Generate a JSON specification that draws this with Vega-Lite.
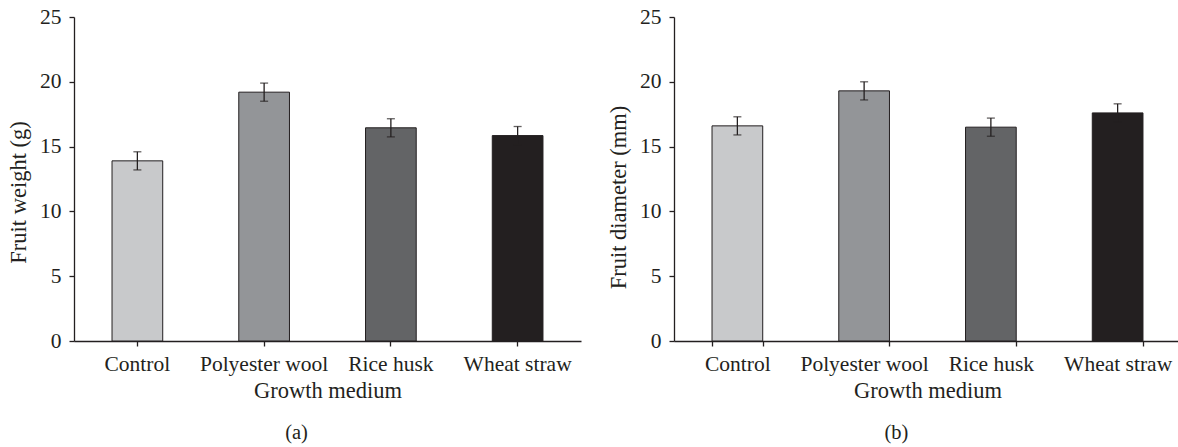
{
  "$schema": "https://vega.github.io/schema/vega-lite/v6.json",
  "background": "white",
  "padding": {"left": 7, "top": 6, "right": 0, "bottom": 0},
  "bounds": "flush",
  "spacing": 93,
  "datasets": {
    "weight": [
      {"medium": "Control", "value": 13.9, "lo": 13.2, "hi": 14.6},
      {"medium": "Polyester wool", "value": 19.2, "lo": 18.5, "hi": 19.9},
      {"medium": "Rice husk", "value": 16.45, "lo": 15.75, "hi": 17.15},
      {"medium": "Wheat straw", "value": 15.85, "lo": 15.15, "hi": 16.55}
    ],
    "diameter": [
      {"medium": "Control", "value": 16.6, "lo": 15.9, "hi": 17.3},
      {"medium": "Polyester wool", "value": 19.3, "lo": 18.6, "hi": 20.0},
      {"medium": "Rice husk", "value": 16.5, "lo": 15.8, "hi": 17.2},
      {"medium": "Wheat straw", "value": 17.6, "lo": 16.9, "hi": 18.3}
    ]
  },
  "config": {
    "font": "Liberation Serif",
    "view": {"stroke": null},
    "axis": {
      "labelFont": "Liberation Serif",
      "titleFont": "Liberation Serif",
      "labelFontSize": 21.5,
      "titleFontSize": 22.5,
      "titleFontWeight": "normal",
      "labelColor": "#231f20",
      "titleColor": "#231f20",
      "domainColor": "#231f20",
      "tickColor": "#231f20",
      "domainWidth": 1.3,
      "tickWidth": 1.3,
      "tickSize": 5,
      "grid": false
    },
    "title": {"font": "Liberation Serif", "fontSize": 20.5, "fontWeight": "normal", "color": "#231f20"}
  },
  "hconcat": [
    {
      "width": 507,
      "height": 324,
      "data": {"name": "weight"},
      "title": {"text": "(a)", "orient": "bottom", "anchor": "middle", "dx": -31, "offset": 21},
      "encoding": {
        "x": {
          "field": "medium", "type": "nominal",
          "sort": ["Control", "Polyester wool", "Rice husk", "Wheat straw"],
          "scale": {"paddingInner": 0.6, "paddingOuter": 0.3},
          "axis": {"title": "Growth medium", "labelAngle": 0, "labelPadding": 7, "titlePadding": 5}
        }
      },
      "layer": [
        {
          "mark": {"type": "bar", "stroke": "#231f20", "strokeWidth": 1},
          "encoding": {
            "y": {"field": "value", "type": "quantitative", "scale": {"domain": [0, 25], "nice": false},
              "axis": {"title": "Fruit weight (g)", "values": [0, 5, 10, 15, 20, 25], "labelPadding": 8, "titlePadding": 9, "titleY": 175}},
            "color": {"field": "medium", "type": "nominal",
              "sort": ["Control", "Polyester wool", "Rice husk", "Wheat straw"],
              "scale": {"range": ["#c8c9cb", "#939598", "#636466", "#231f20"]}, "legend": null}
          }
        },
        {
          "mark": {"type": "rule", "stroke": "#231f20", "strokeWidth": 1.3},
          "encoding": {"y": {"field": "lo", "type": "quantitative"}, "y2": {"field": "hi"}}
        },
        {
          "mark": {"type": "tick", "orient": "horizontal", "size": 8, "thickness": 1.3, "color": "#231f20"},
          "encoding": {"y": {"field": "lo", "type": "quantitative"}}
        },
        {
          "mark": {"type": "tick", "orient": "horizontal", "size": 8, "thickness": 1.3, "color": "#231f20"},
          "encoding": {"y": {"field": "hi", "type": "quantitative"}}
        }
      ]
    },
    {
      "width": 507,
      "height": 324,
      "data": {"name": "diameter"},
      "title": {"text": "(b)", "orient": "bottom", "anchor": "middle", "dx": -31, "offset": 21},
      "encoding": {
        "x": {
          "field": "medium", "type": "nominal",
          "sort": ["Control", "Polyester wool", "Rice husk", "Wheat straw"],
          "scale": {"paddingInner": 0.6, "paddingOuter": 0.3},
          "axis": {"title": "Growth medium", "labelAngle": 0, "labelPadding": 7, "titlePadding": 5, "tickBand": "extent"}
        }
      },
      "layer": [
        {
          "mark": {"type": "bar", "stroke": "#231f20", "strokeWidth": 1},
          "encoding": {
            "y": {"field": "value", "type": "quantitative", "scale": {"domain": [0, 25], "nice": false},
              "axis": {"title": "Fruit diameter (mm)", "values": [0, 5, 10, 15, 20, 25], "labelPadding": 8, "titlePadding": 9, "titleY": 180}},
            "color": {"field": "medium", "type": "nominal",
              "sort": ["Control", "Polyester wool", "Rice husk", "Wheat straw"],
              "scale": {"range": ["#c8c9cb", "#939598", "#636466", "#231f20"]}, "legend": null}
          }
        },
        {
          "mark": {"type": "rule", "stroke": "#231f20", "strokeWidth": 1.3},
          "encoding": {"y": {"field": "lo", "type": "quantitative"}, "y2": {"field": "hi"}}
        },
        {
          "mark": {"type": "tick", "orient": "horizontal", "size": 8, "thickness": 1.3, "color": "#231f20"},
          "encoding": {"y": {"field": "lo", "type": "quantitative"}}
        },
        {
          "mark": {"type": "tick", "orient": "horizontal", "size": 8, "thickness": 1.3, "color": "#231f20"},
          "encoding": {"y": {"field": "hi", "type": "quantitative"}}
        }
      ]
    }
  ]
}
